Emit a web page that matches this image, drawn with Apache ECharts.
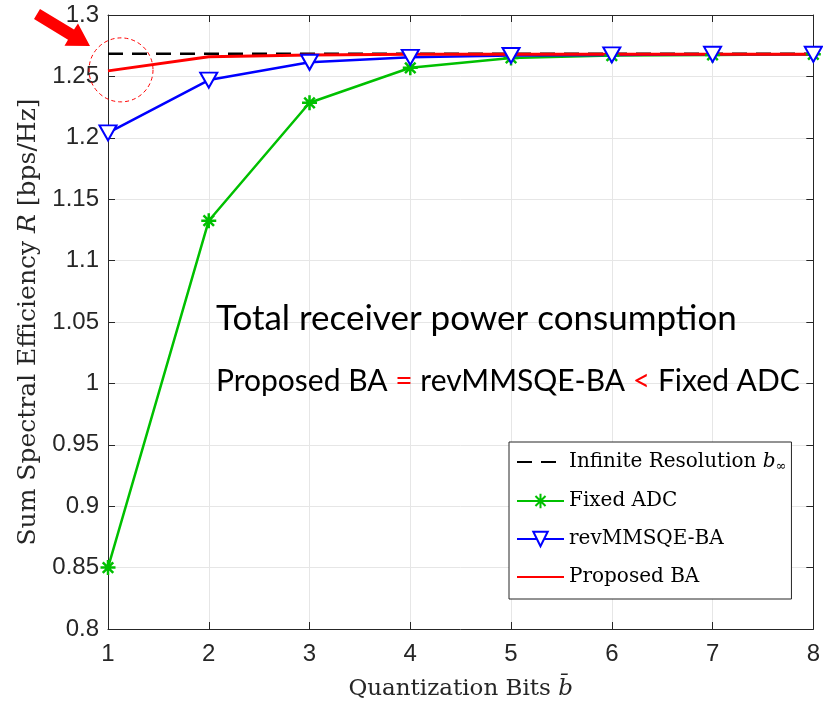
<!DOCTYPE html>
<html>
<head>
<meta charset="utf-8">
<script src="https://cdn.jsdelivr.net/npm/echarts@6/dist/echarts.min.js"></script>
<style>
  html, body { margin: 0; padding: 0; background: #fff; }
  #container { width: 823px; height: 706px; }
</style>
</head>
<body>
<div id="container"></div>
<script>
var bits = [1, 2, 3, 4, 5, 6, 7, 8];
var infiniteRes = [1.2685, 1.2685, 1.2685, 1.2685, 1.2685, 1.2685, 1.2685, 1.2685];
var fixedAdc = [0.850, 1.1325, 1.2285, 1.257, 1.265, 1.267, 1.2675, 1.268];
var revMmsqe = [1.204, 1.247, 1.2615, 1.2655, 1.267, 1.2675, 1.268, 1.268];
var proposedBa = [1.2545, 1.266, 1.2675, 1.268, 1.268, 1.268, 1.268, 1.268];
var yTicks = { min: 0.8, max: 1.3, step: 0.05 };

var dom = document.getElementById('container');
var myChart = echarts.init(dom, null, { renderer: 'canvas' });

function pairs(ys) {
  return bits.map(function (b, i) { return [b, ys[i]]; });
}

var serif = '"DejaVu Serif", "Liberation Serif", serif';
var sans = '"Liberation Sans", Arial, sans-serif';
var asterisk = 'path://M0,-10L0,10M-10,0L10,0M-7,-7L7,7M-7,7L7,-7';

var gridLine = { show: true, lineStyle: { color: '#e6e6e6', width: 1 } };
var axisLine = { show: true, lineStyle: { color: '#262626', width: 1 } };
var tick = { show: true, inside: true, length: 7, lineStyle: { color: '#262626' } };

var option = {
  animation: false,
  grid: { left: 108, right: 9, top: 15, bottom: 76 },
  legend: {
    orient: 'vertical',
    left: 509,
    top: 442,
    padding: [10, 5, 12, 7],
    itemGap: 18,
    itemWidth: 47,
    itemHeight: 18,
    backgroundColor: '#fff',
    borderColor: '#262626',
    borderWidth: 1,
    textStyle: { fontFamily: serif, fontSize: 20, color: '#000',
      rich: {
        n: { fontFamily: serif, fontSize: 20, color: '#000' },
        b: { fontFamily: serif, fontSize: 20, fontStyle: 'italic', color: '#000' },
        s: { fontFamily: serif, fontSize: 13, color: '#000', padding: [9, 0, 0, 0] }
      }
    },
    formatter: function (name) {
      if (name === 'Infinite Resolution') {
        return '{n|Infinite Resolution }{b|b}{s|∞}';
      }
      return name;
    },
    data: [
      { name: 'Infinite Resolution', itemStyle: { opacity: 0 } },
      'Fixed ADC',
      'revMMSQE-BA',
      { name: 'Proposed BA', itemStyle: { opacity: 0 } }
    ]
  },
  xAxis: [
    {
      type: 'value', min: 1, max: 8, interval: 1,
      name: '{t|Quantization Bits }{i|b\u0304}',
      nameLocation: 'middle', nameGap: 49,
      nameTextStyle: {
        rich: {
          t: { fontFamily: serif, fontSize: 23, color: '#262626' },
          i: { fontFamily: serif, fontSize: 23, fontStyle: 'italic', color: '#262626' }
        }
      },
      axisLine: axisLine,
      axisTick: tick,
      axisLabel: { fontFamily: sans, fontSize: 24, color: '#262626', margin: 13 },
      splitLine: gridLine
    },
    {
      type: 'value', min: 1, max: 8, interval: 1, position: 'top',
      axisLine: axisLine,
      axisTick: tick,
      axisLabel: { show: false },
      splitLine: { show: false }
    }
  ],
  yAxis: [
    {
      type: 'value', min: yTicks.min, max: yTicks.max, interval: yTicks.step,
      name: '{t|Sum Spectral Efficiency }{i|R}{t| [bps/Hz]}',
      nameLocation: 'middle', nameGap: 62,
      nameTextStyle: {
        rich: {
          t: { fontFamily: serif, fontSize: 25, color: '#262626' },
          i: { fontFamily: serif, fontSize: 25, fontStyle: 'italic', color: '#262626' }
        }
      },
      axisLine: axisLine,
      axisTick: tick,
      axisLabel: {
        fontFamily: sans, fontSize: 24, color: '#262626', margin: 9,
        formatter: function (v) { return String(parseFloat(v.toFixed(2))); }
      },
      splitLine: gridLine
    },
    {
      type: 'value', min: yTicks.min, max: yTicks.max, interval: yTicks.step, position: 'right',
      axisLine: axisLine,
      axisTick: tick,
      axisLabel: { show: false },
      splitLine: { show: false }
    }
  ],
  series: [
    {
      name: 'Infinite Resolution',
      type: 'line',
      data: pairs(infiniteRes),
      showSymbol: false,
      symbol: 'circle',
      color: '#000',
      lineStyle: { color: '#000', width: 2.5, type: [15, 9] }
    },
    {
      name: 'Fixed ADC',
      type: 'line',
      data: pairs(fixedAdc),
      symbol: asterisk,
      symbolSize: 15,
      color: '#00c000',
      lineStyle: { color: '#00c000', width: 2.5 },
      itemStyle: { color: 'none', borderColor: '#00c000', borderWidth: 2.5 }
    },
    {
      name: 'revMMSQE-BA',
      type: 'line',
      data: pairs(revMmsqe),
      symbol: 'emptyTriangle',
      symbolRotate: 180,
      symbolSize: [17, 15],
      color: '#0000ff',
      lineStyle: { color: '#0000ff', width: 2.5 },
      itemStyle: { color: '#0000ff', borderColor: '#0000ff', borderWidth: 2.2 }
    },
    {
      name: 'Proposed BA',
      type: 'line',
      data: pairs(proposedBa),
      showSymbol: false,
      symbol: 'circle',
      color: '#ff0000',
      lineStyle: { color: '#ff0000', width: 3 }
    }
  ]
};

myChart.setOption(option);

// annotations: highlight circle around the first Proposed BA point, arrow, texts
var c = myChart.convertToPixel({ gridIndex: 0 }, [bits[0], proposedBa[0]]);
myChart.setOption({
  graphic: [
    {
      type: 'circle',
      shape: { cx: c[0] + 13, cy: c[1] - 1, r: 32 },
      style: { fill: 'none', stroke: '#ff0000', lineWidth: 1, lineDash: [4, 3] },
      z: 100
    },
    {
      type: 'polygon',
      shape: {
        points: [[34, 19], [40, 9], [74, 29.5], [78, 23.5], [90, 46], [64.5, 45.7], [68, 39.7]]
      },
      style: { fill: '#ff0000' },
      z: 100
    },
    {
      type: 'text',
      left: 216,
      top: 301,
      style: {
        text: 'Total receiver power consumption',
        font: '35px Lato, "Open Sans", sans-serif',
        fill: '#000'
      },
      z: 100
    },
    {
      type: 'text',
      left: 216,
      top: 366,
      style: {
        text: '{k|Proposed BA }{r|=}{k| revMMSQE-BA }{r|<}{k| Fixed ADC}',
        rich: {
          k: { fontFamily: 'Lato, "Open Sans", sans-serif', fontSize: 30, fill: '#000', color: '#000' },
          r: { fontFamily: 'Lato, "Open Sans", sans-serif', fontSize: 30, fill: '#ff0000', color: '#ff0000' }
        }
      },
      z: 100
    }
  ]
});

window.addEventListener('resize', myChart.resize);
</script>
</body>
</html>
